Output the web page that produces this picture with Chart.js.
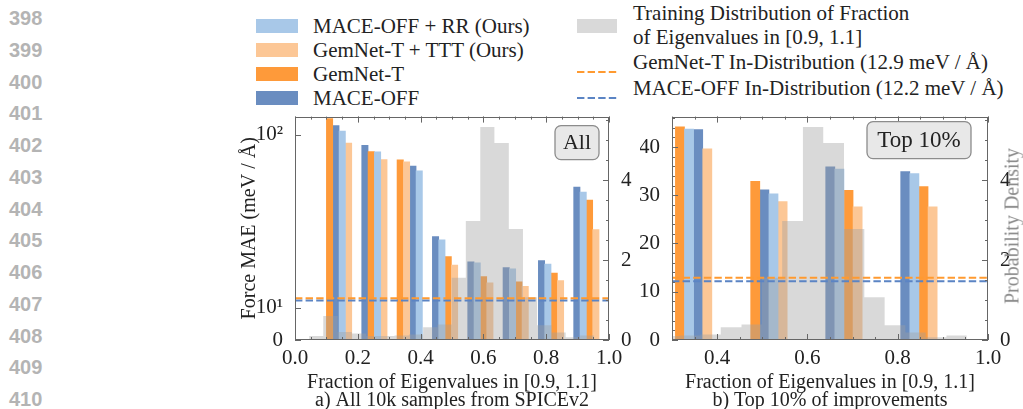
<!DOCTYPE html>
<html>
<head>
<meta charset="utf-8">
<script src="https://cdn.jsdelivr.net/npm/chart.js@4.4.1/dist/chart.umd.min.js"></script>
<style>
  html, body { margin: 0; padding: 0; background: #fff; }
  #page { position: relative; width: 1023px; height: 409px; overflow: hidden;
          font-family: 'Liberation Serif', serif; color: #222; }
  canvas { position: absolute; }
  #chartAll { left: 230px; top: 100px; }
  #chartTop { left: 640px; top: 100px; }
  .lineno { position: absolute; left: 9px; width: 40px; line-height: 24px;
            font: bold 20px 'Liberation Sans', Arial, sans-serif; color: #b4b4b4; }
  .leg { position: absolute; font-size: 21px; line-height: 24px; white-space: nowrap; }
  .sw { position: absolute; }
  #densTitle { position: absolute; left: 1012px; top: 226px; font-size: 20px; color: #8a8a8a;
               white-space: nowrap; transform: translate(-50%, -50%) rotate(-90deg); }
</style>
</head>
<body>
<div id="page">
  <div id="linenos"></div>
  <div id="legend"></div>
  <canvas id="chartAll" width="410" height="309"></canvas>
  <canvas id="chartTop" width="383" height="309"></canvas>
  <div id="densTitle">Probability Density</div>
</div>
<script>
// ---------- DATA ----------
const seriesNames = ['MACE-OFF + RR (Ours)', 'GemNet-T + TTT (Ours)', 'GemNet-T', 'MACE-OFF'];

// a) all samples: bins of the eigenvalue fraction (left edges)
const binStartsAll = [0.1, 0.2125, 0.325, 0.4375, 0.55, 0.6625, 0.775, 0.8875];
const maceRRAll    = [105.7, 76.0, 56.3, 31.0, 23.9, 22.0, 23.5, 45.8];
const gemnetTTTAll = [87.4, 67.4, 65.0, 23.2, 17.7, 16.6, 18.4, 34.2];
const gemnetAll    = [128.7, 76.3, 67.1, 25.8, 19.6, 18.0, 20.7, 43.3];
const maceOffAll   = [115.4, 84.3, 60.8, 32.0, 24.2, 22.4, 24.6, 47.3];

// b) top 10% of improvements
const binStartsTop = [0.3075, 0.4743, 0.6405, 0.8066];
const maceRRTop    = [43.7, 30.3, 35.4, 34.5];
const gemnetTTTTop = [39.6, 28.7, 27.6, 27.6];
const gemnetTop    = [44.2, 32.9, 31.0, 31.8];
const maceOffTop   = [43.6, 31.1, 35.9, 34.9];

// training distribution histogram (same in both panels)
const trainEdges   = [0.045, 0.090, 0.136, 0.181, 0.227, 0.272, 0.317, 0.363, 0.408, 0.454, 0.499,
                      0.544, 0.590, 0.635, 0.681, 0.726, 0.771, 0.817, 0.862, 0.908, 0.953];
const trainDensity = [0.10, 0.60, 0.20, 0.16, 0.10, 0.10, 0.11, 0.14, 0.32, 0.39,
                      1.56, 2.98, 5.33, 4.93, 2.78, 1.07, 0.37, 0.19, 0.07, 0.11];

// in-distribution reference errors
const gemnetInDist = 12.9;
const maceInDist   = 12.2;

const xTicksAll = [0, 0.2, 0.4, 0.6, 0.8, 1.0];
const xTicksTop = [0.4, 0.6, 0.8, 1.0];
const yTicksAll = [0, 10, 100];
const yTicksTop = [0, 10, 20, 30, 40];
const densTicks = [0, 2, 4];

// ---------- STYLE ----------
const COLORS = {
  maceRR: '#a8c8e8',
  gemnetTTT: '#fcc796',
  gemnet: '#fe9a3a',
  maceOff: '#6a8dc0',
  hist: 'rgba(160,160,160,0.4)',
  histSwatch: '#d9d9d9',
  lineOrange: '#ff9a30',
  lineBlue: '#5b84c4',
  frame: '#666'
};
const seriesColors = [COLORS.maceRR, COLORS.gemnetTTT, COLORS.gemnet, COLORS.maceOff];
const BAR_W = 0.0202;      // bar width in x units
const DASH = [7.4, 3.2];

Chart.defaults.font.family = "'Liberation Serif', serif";
Chart.defaults.font.size = 21;
Chart.defaults.color = '#222';

// ---------- symlog scale (linear below the threshold, log above) ----------
const SYMLOG_LINTHRESH = 50;
class SymLogScale extends Chart.LinearScale {
  static id = 'symlog';
  _t(v) {
    const c = 1 / (1 - 1 / 10);
    const a = Math.abs(v);
    const t = a <= SYMLOG_LINTHRESH ? a / SYMLOG_LINTHRESH * c : c + Math.log10(a / SYMLOG_LINTHRESH);
    return v < 0 ? -t : t;
  }
  _inv(t) {
    const c = 1 / (1 - 1 / 10);
    const a = Math.abs(t);
    const v = a <= c ? a / c * SYMLOG_LINTHRESH : SYMLOG_LINTHRESH * Math.pow(10, a - c);
    return t < 0 ? -v : v;
  }
  getPixelForValue(value) {
    const t0 = this._t(this.min), t1 = this._t(this.max);
    return this.getPixelForDecimal((this._t(value) - t0) / (t1 - t0));
  }
  getValueForPixel(pixel) {
    const t0 = this._t(this.min), t1 = this._t(this.max);
    return this._inv(t0 + this.getDecimalForPixel(pixel) * (t1 - t0));
  }
}
Chart.register(SymLogScale);

// ---------- plugins ----------
const frameTicks = {
  id: 'frameTicks',
  afterDatasetsDraw(chart, args, opts) {
    const { ctx, chartArea: a } = chart;
    ctx.save();
    ctx.strokeStyle = COLORS.frame;
    ctx.lineWidth = 1;
    ctx.strokeRect(Math.round(a.left) + 0.5, Math.round(a.top) + 0.5,
                   Math.round(a.right - a.left) - 1, Math.round(a.bottom - a.top) - 1);
    ctx.beginPath();
    for (const m of opts.marks) {
      const sc = chart.scales[m.axis];
      const len = m.minor ? 3 : 6;
      for (const v of m.values) {
        const p = Math.round(sc.getPixelForValue(v)) + 0.5;
        if (sc.isHorizontal()) {
          ctx.moveTo(p, a.bottom); ctx.lineTo(p, a.bottom - len);
          ctx.moveTo(p, a.top); ctx.lineTo(p, a.top + len);
        } else if (sc.position === 'left') {
          ctx.moveTo(a.left, p); ctx.lineTo(a.left + len, p);
        } else {
          ctx.moveTo(a.right, p); ctx.lineTo(a.right - len, p);
        }
      }
    }
    ctx.stroke();
    ctx.restore();
  }
};

const cornerTag = {
  id: 'cornerTag',
  afterDraw(chart, args, o) {
    const { ctx, chartArea: a } = chart;
    const x = a.right - o.right - o.w, y = a.top + o.top;
    ctx.save();
    ctx.beginPath();
    ctx.roundRect(x, y, o.w, o.h, 6);
    ctx.fillStyle = '#e8e8e8';
    ctx.fill();
    ctx.lineWidth = 1.3;
    ctx.strokeStyle = '#8c8c8c';
    ctx.stroke();
    ctx.fillStyle = '#222';
    ctx.font = o.size + "px 'Liberation Serif', serif";
    ctx.textAlign = 'center';
    ctx.textBaseline = 'middle';
    ctx.fillText(o.text, x + o.w / 2, y + o.h / 2 + 1);
    ctx.restore();
  }
};

// ---------- helpers ----------
function range(a, b, step) {
  const out = [];
  for (let v = a; v <= b + 1e-9; v += step) out.push(+v.toFixed(4));
  return out;
}

// bars inside each bin are drawn tallest first, as in the figure
function groupedBars(starts, seriesVals) {
  const out = seriesVals.map(() => []);
  starts.forEach((s, g) => {
    const order = seriesVals.map((v, i) => i).sort((p, q) => seriesVals[q][g] - seriesVals[p][g]);
    order.forEach((si, rank) => out[si].push({ x: s + (rank + 0.5) * BAR_W, y: seriesVals[si][g] }));
  });
  return out;
}

const supDigits = { 1: '\u00b9', 2: '\u00b2', 3: '\u00b3' };

function makePanel(canvasId, p) {
  const bars = groupedBars(p.starts, p.series);
  const datasets = bars.map((pts, i) => ({
    type: 'bar',
    label: seriesNames[i],
    data: pts,
    backgroundColor: seriesColors[i],
    borderWidth: 0,
    grouped: false,
    barThickness: c => {
      const sx = c.chart.scales.x;
      return BAR_W * sx.width / (sx.max - sx.min);
    },
    yAxisID: 'y',
    order: 2
  }));
  datasets.push({
    type: 'line',
    label: 'Training Distribution',
    data: trainEdges.map((e, i) => ({ x: e, y: i < trainDensity.length ? trainDensity[i] : 0 })),
    stepped: true,
    fill: 'origin',
    backgroundColor: COLORS.hist,
    borderColor: 'rgba(0,0,0,0)',
    pointRadius: 0,
    yAxisID: 'y2',
    order: 1
  });
  [[gemnetInDist, COLORS.lineOrange], [maceInDist, COLORS.lineBlue]].forEach(([v, col]) => {
    datasets.push({
      type: 'line',
      data: [{ x: p.xmin, y: v }, { x: p.xmax, y: v }],
      borderColor: col,
      borderWidth: 2,
      borderDash: DASH,
      pointRadius: 0,
      yAxisID: 'y',
      order: 0
    });
  });

  const fixTicks = list => s => { s.ticks = list.map(value => ({ value })); };

  return new Chart(document.getElementById(canvasId), {
    type: 'bar',
    data: { datasets },
    options: {
      responsive: false,
      animation: false,
      events: [],
      layout: { padding: { top: 12 } },
      plugins: {
        legend: { display: false },
        tooltip: { enabled: false },
        frameTicks: { marks: p.marks },
        cornerTag: p.tag
      },
      scales: {
        x: {
          type: 'linear', min: p.xmin, max: p.xmax, offset: false,
          grid: { display: false }, border: { display: false },
          afterBuildTicks: fixTicks(p.xTicks),
          ticks: { autoSkip: false, maxRotation: 0, padding: 0, font: { lineHeight: 1 },
                   callback: v => v.toFixed(1) },
          title: { display: true, text: ['Fraction of Eigenvalues in [0.9, 1.1]', p.caption],
                   font: { size: 20, lineHeight: 0.9 }, padding: { top: 0, bottom: -1 } },
          afterFit: s => { s.height = 69; }
        },
        y: {
          type: p.yType, position: 'left', min: 0, max: p.ymax,
          grid: { display: false }, border: { display: false },
          afterBuildTicks: fixTicks(p.yTicks),
          ticks: { padding: 4, callback: p.yLabel },
          title: p.yTitle,
          afterFit: s => { s.width = p.leftW; }
        },
        y2: {
          type: 'linear', position: 'right', min: 0, max: 5.59,
          grid: { display: false }, border: { display: false },
          afterBuildTicks: fixTicks(densTicks),
          ticks: { padding: 4 },
          afterFit: s => { s.width = p.rightW; }
        }
      }
    },
    plugins: [frameTicks, cornerTag]
  });
}

// ---------- panels ----------
makePanel('chartAll', {
  starts: binStartsAll,
  series: [maceRRAll, gemnetTTTAll, gemnetAll, maceOffAll],
  xmin: 0, xmax: 1, xTicks: xTicksAll,
  yType: 'symlog', ymax: 133, yTicks: yTicksAll,
  yLabel: v => v === 0 ? '0' : '10' + supDigits[Math.round(Math.log10(v))],
  yTitle: { display: true, text: 'Force MAE (meV / \u00c5)', font: { size: 20 }, padding: { top: 8 } },
  leftW: 65, rightW: 31,
  caption: 'a) All 10k samples from SPICEv2',
  tag: { text: 'All', right: 10, top: 9, w: 44, h: 34, size: 22 },
  marks: [
    { axis: 'x', values: xTicksAll },
    { axis: 'x', values: range(0, 1, 0.05), minor: true },
    { axis: 'y', values: yTicksAll },
    { axis: 'y2', values: densTicks },
    { axis: 'y2', values: range(0, 5.5, 0.5), minor: true }
  ]
});

makePanel('chartTop', {
  starts: binStartsTop,
  series: [maceRRTop, gemnetTTTTop, gemnetTop, maceOffTop],
  xmin: 0.3, xmax: 1.0, xTicks: xTicksTop,
  yType: 'linear', ymax: 46.3, yTicks: yTicksTop,
  yLabel: v => String(v),
  yTitle: { display: false },
  leftW: 32, rightW: 35,
  caption: 'b) Top 10% of improvements',
  tag: { text: 'Top 10%', right: 17, top: 5, w: 104, h: 37, size: 23 },
  marks: [
    { axis: 'x', values: xTicksTop },
    { axis: 'x', values: range(0.3, 1, 0.05), minor: true },
    { axis: 'y', values: yTicksTop },
    { axis: 'y', values: range(0, 46, 2), minor: true },
    { axis: 'y2', values: densTicks },
    { axis: 'y2', values: range(0, 5.5, 0.5), minor: true }
  ]
});

// ---------- legend & page line numbers ----------
const legend = document.getElementById('legend');
function addEl(cls, css, html) {
  const d = document.createElement('div');
  d.className = cls;
  Object.assign(d.style, css);
  if (html !== undefined) d.innerHTML = html;
  legend.appendChild(d);
  return d;
}
seriesNames.forEach((name, i) => {
  const cy = 26 + i * 24;
  addEl('sw', { left: '256px', top: (cy - 7) + 'px', width: '42px', height: '14px', background: seriesColors[i] });
  addEl('leg', { left: '313px', top: (cy - 12) + 'px' }).textContent = name;
});
addEl('sw', { left: '577px', top: '19px', width: '40px', height: '14px', background: COLORS.histSwatch });
addEl('leg', { left: '633px', top: '1px' }, 'Training Distribution of Fraction<br>of Eigenvalues in [0.9, 1.1]');
[[gemnetInDist, 'GemNet-T', COLORS.lineOrange, 62], [maceInDist, 'MACE-OFF', COLORS.lineBlue, 88]].forEach(([v, name, col, cy]) => {
  addEl('sw', { left: '577px', top: (cy - 2) + 'px', width: '40px', height: '4px' },
    `<svg width="40" height="4"><line x1="0" y1="2" x2="40" y2="2" stroke="${col}" stroke-width="2" stroke-dasharray="${DASH.join(' ')}"/></svg>`);
  addEl('leg', { left: '633px', top: (cy - 12) + 'px' }).textContent = `${name} In-Distribution (${v} meV / \u00c5)`;
});

const linenos = document.getElementById('linenos');
for (let n = 398; n <= 410; n++) {
  const d = document.createElement('div');
  d.className = 'lineno';
  d.style.top = (19 + (n - 398) * 31.75 - 12) + 'px';
  d.textContent = n;
  linenos.appendChild(d);
}
</script>
</body>
</html>
